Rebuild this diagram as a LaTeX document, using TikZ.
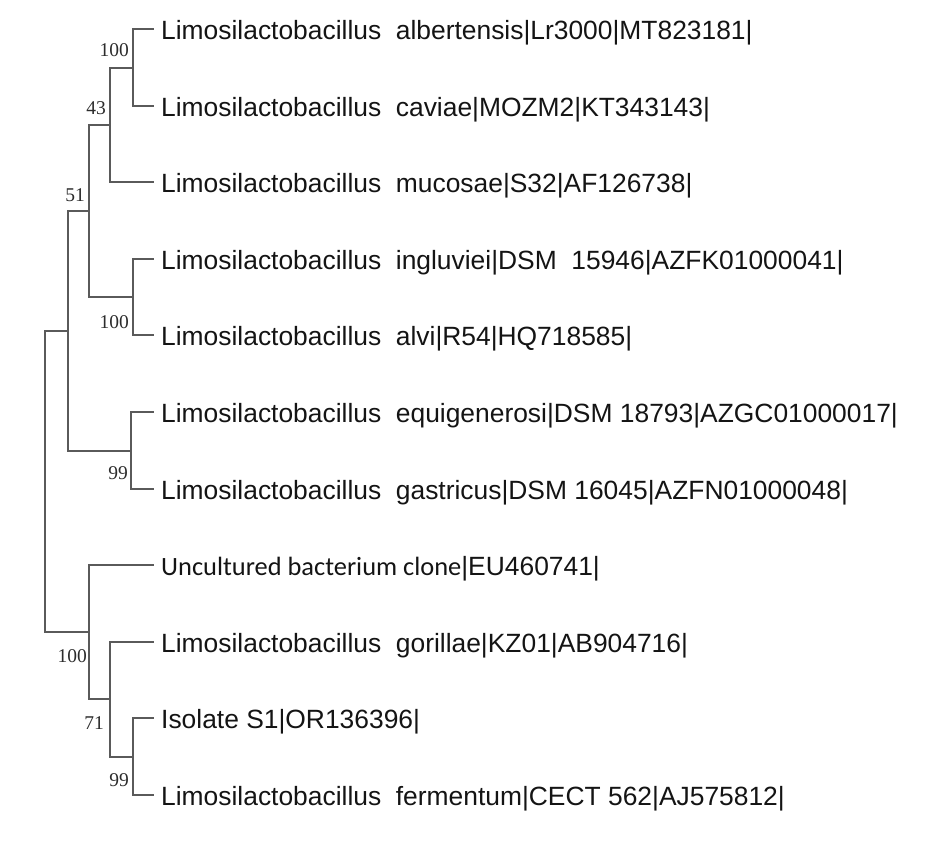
\documentclass[tikz,border=0pt]{standalone}
\usepackage{fontspec}
\setmainfont{Liberation Sans}
\newfontfamily\bsfont{Liberation Serif}
\newfontfamily\clfont{Carlito}
\definecolor{branch}{RGB}{90,90,90}
\definecolor{txt}{RGB}{20,20,20}
\begin{document}
\begin{tikzpicture}[x=1pt,y=-1pt,
  br/.style={draw=branch,line width=2pt,line cap=rect},
  leaf/.style={anchor=base west,inner sep=0pt,text=txt,font=\fontsize{26.4}{30}\selectfont},
  boot/.style={anchor=east,inner sep=0pt,text=txt!90!white,font=\bsfont\fontsize{19.5}{22}\selectfont}]
\useasboundingbox (0,0) rectangle (944,844);
% leaf tips
\coordinate (l1) at (153,29);
\coordinate (l2) at (153,106);
\coordinate (l3) at (153,182);
\coordinate (l4) at (153,259);
\coordinate (l5) at (153,335);
\coordinate (l6) at (153,412);
\coordinate (l7) at (153,489);
\coordinate (l8) at (153,565);
\coordinate (l9) at (153,642);
\coordinate (l10) at (153,718);
\coordinate (l11) at (153,795);
% internal nodes
\coordinate (n1) at (133,67.5);
\coordinate (n2) at (110,124.8);
\coordinate (n3) at (133,297);
\coordinate (n4) at (89,211);
\coordinate (n5) at (131,450.5);
\coordinate (n6) at (68,330.7);
\coordinate (n7) at (133,756.5);
\coordinate (n8) at (110,699);
\coordinate (n9) at (89,632);
\coordinate (root) at (45,481);
% branches
\draw[br] (n1) |- (l1);
\draw[br] (n1) |- (l2);
\draw[br] (n2) |- (n1);
\draw[br] (n2) |- (l3);
\draw[br] (n3) |- (l4);
\draw[br] (n3) |- (l5);
\draw[br] (n4) |- (n2);
\draw[br] (n4) |- (n3);
\draw[br] (n5) |- (l6);
\draw[br] (n5) |- (l7);
\draw[br] (n6) |- (n4);
\draw[br] (n6) |- (n5);
\draw[br] (n7) |- (l10);
\draw[br] (n7) |- (l11);
\draw[br] (n8) |- (l9);
\draw[br] (n8) |- (n7);
\draw[br] (n9) |- (l8);
\draw[br] (n9) |- (n8);
\draw[br] (root) |- (n6);
\draw[br] (root) |- (n9);
% leaf labels
\node[leaf] (t1) at (161,39) {Limosilactobacillus~~albertensis|Lr3000|MT823181|};
\node[leaf] (t2) at (161,116) {Limosilactobacillus~~caviae|MOZM2|KT343143|};
\node[leaf] (t3) at (161,192) {Limosilactobacillus~~mucosae|S32|AF126738|};
\node[leaf] (t4) at (161,269) {Limosilactobacillus~~ingluviei|DSM~~15946|AZFK01000041|};
\node[leaf] (t5) at (161,345) {Limosilactobacillus~~alvi|R54|HQ718585|};
\node[leaf] (t6) at (161,422) {Limosilactobacillus~~equigenerosi|DSM 18793|AZGC01000017|};
\node[leaf] (t7) at (161,499) {Limosilactobacillus~~gastricus|DSM 16045|AZFN01000048|};
\node[leaf] (t8) at (161,575) {{\clfont Uncultured bacterium clone}|EU460741|};
\node[leaf] (t9) at (161,652) {Limosilactobacillus~~gorillae|KZ01|AB904716|};
\node[leaf] (t10) at (161,728) {Isolate S1|OR136396|};
\node[leaf] (t11) at (161,805) {Limosilactobacillus~~fermentum|CECT 562|AJ575812|};
% bootstrap values
\node[boot] (b1) at (129,50) {100};
\node[boot] (b2) at (106,108) {43};
\node[boot] (b4) at (85,195) {51};
\node[boot] (b3) at (129,322) {100};
\node[boot] (b5) at (128,473) {99};
\node[boot] (b9) at (87,656) {100};
\node[boot] (b8) at (104,723) {71};
\node[boot] (b7) at (129,780) {99};
\end{tikzpicture}
\end{document}
